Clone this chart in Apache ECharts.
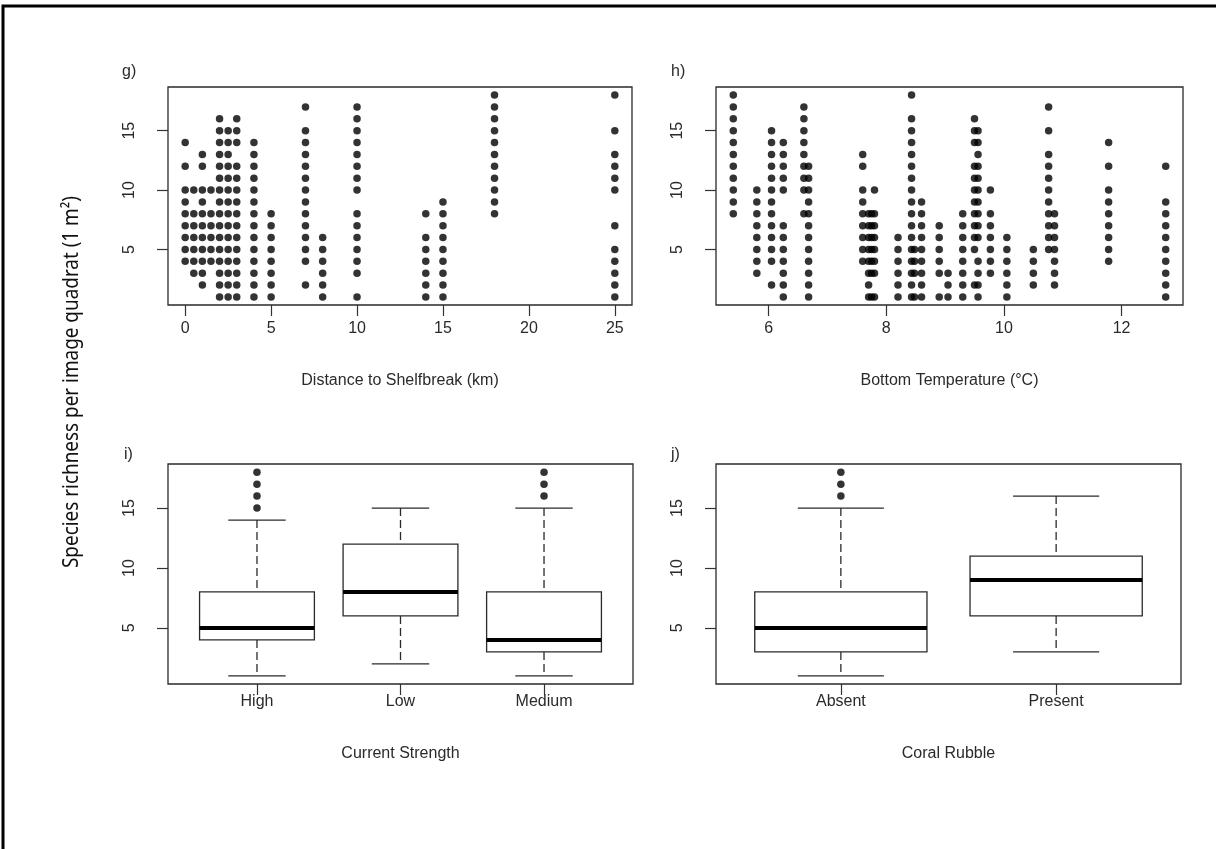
<!DOCTYPE html>
<html>
<head>
<meta charset="utf-8">
<script src="https://cdn.jsdelivr.net/npm/echarts@6/dist/echarts.min.js"></script>
<style>
html,body{margin:0;padding:0;background:#fff;}
#chart{width:1216px;height:849px;}
</style>
</head>
<body>
<div id="chart"></div>
<script>
// ---------- DATA ----------
// g) Distance to shelfbreak (km): [x, richness values]
const distCols = [
  [0,   [14,12,10,9,8,7,6,5,4]],
  [0.5, [10,8,7,6,5,4,3]],
  [1,   [13,12,10,9,8,7,6,5,4,3,2]],
  [1.5, [10,8,7,6,5,4]],
  [2,   [16,15,14,13,12,11,10,9,8,7,6,5,4,3,2,1]],
  [2.5, [15,14,13,12,11,10,9,8,7,6,5,4,3,2,1]],
  [3,   [16,15,14,12,11,10,9,8,7,6,5,4,3,2,1]],
  [4,   [14,13,12,11,10,9,8,7,6,5,4,3,2,1]],
  [5,   [8,7,6,5,4,3,2,1]],
  [7,   [17,15,14,13,12,11,10,9,8,7,6,5,4,2]],
  [8,   [6,5,4,3,2,1]],
  [10,  [17,16,15,14,13,12,11,10,8,7,6,5,4,3,1]],
  [14,  [8,6,5,4,3,2,1]],
  [15,  [9,8,7,6,5,4,3,2,1]],
  [18,  [18,17,16,15,14,13,12,11,10,9,8]],
  [25,  [18,15,13,12,11,10,7,5,4,3,2,1]]
];
// h) Bottom temperature (°C)
const tempCols = [
  [5.4,  [18,17,16,15,14,13,12,11,10,9,8]],
  [5.8,  [10,9,8,7,6,5,4,3]],
  [6.05, [15,14,13,12,11,10,9,8,7,6,5,4,2]],
  [6.25, [14,13,12,11,10,7,6,5,4,3,2,1]],
  [6.6,  [17,16,15,14,13,12,11,10,8]],
  [6.68, [12,11,10,9,8,7,6,5,4,3,2,1]],
  [7.6,  [13,12,10,9,8,7,6,5,4]],
  [7.7,  [8,7,6,5,4,3,2,1]],
  [7.75, [8,7,6,5,4,3,1]],
  [7.8,  [10,8,7,6,5,4,3,1]],
  [8.2,  [6,5,4,3,2,1]],
  [8.43, [18,16,15,14,13,12,11,10,9,8,7,6,5,4,3,2,1]],
  [8.48, [5,4,3,1]],
  [8.6,  [9,8,7,6,5,4,3,2,1]],
  [8.9,  [7,6,5,4,3,1]],
  [9.05, [3,2,1]],
  [9.3,  [8,7,6,5,4,3,2,1]],
  [9.5,  [16,15,14,12,11,10,9,8,7,6,5,2]],
  [9.56, [15,14,13,12,11,10,9,8,7,6,4,3,2,1]],
  [9.77, [10,8,7,6,5,4,3]],
  [10.05,[6,5,4,3,2,1]],
  [10.5, [5,4,3,2]],
  [10.76,[17,15,13,12,11,10,9,8,7,6,5]],
  [10.86,[8,7,6,5,4,3,2]],
  [11.78,[14,12,10,9,8,7,6,5,4]],
  [12.75,[12,9,8,7,6,5,4,3,2,1]]
];
// i) Current strength boxplots: [whiskerLow, Q1, median, Q3, whiskerHigh]
const currentCats = ['High','Low','Medium'];
const currentStats = [[1,4,5,8,14],[2,6,8,12,15],[1,3,4,8,15]];
const currentOutliers = [[1,15],[1,16],[1,17],[1,18],[3,16],[3,17],[3,18]];
// j) Coral rubble boxplots
const rubbleCats = ['Absent','Present'];
const rubbleStats = [[1,3,5,8,15],[3,6,9,11,16]];
const rubbleOutliers = [[1,16],[1,17],[1,18]];
// tick labels
const distTicks = [0,5,10,15,20,25];
const tempTicks = [6,8,10,12];
const yTicks = [5,10,15];

// ---------- CHART ----------
const FONT = 'Liberation Sans';
const TXT = '#2a2a2a';
const chart = echarts.init(document.getElementById('chart'), null, {renderer:'canvas'});

const flatten = cols => cols.flatMap(([x, ys]) => ys.map(y => [x, y]));

function yAxisCfg(gi){
  return {
    type:'value', gridIndex:gi, min:0.32, max:18.68,
    axisLine:{show:false, onZero:false}, splitLine:{show:false},
    axisTick:{show:true, length:11, customValues:yTicks, lineStyle:{color:'#333', width:1.2}},
    axisLabel:{customValues:yTicks, rotate:90, margin:30, fontSize:16, fontFamily:FONT, color:TXT}
  };
}
function xAxisCfg(gi, min, max, ticks, name, gap, margin, fmt){
  return {
    type:'value', gridIndex:gi, min:min, max:max,
    axisLine:{show:false, onZero:false}, splitLine:{show:false},
    axisTick:{show:true, length:11, customValues:ticks, lineStyle:{color:'#333', width:1.2}},
    axisLabel:{customValues:ticks, margin:margin, fontSize:16, fontFamily:FONT, color:TXT, formatter:fmt},
    name:name, nameLocation:'middle', nameGap:gap,
    nameTextStyle:{fontSize:16, fontFamily:FONT, color:TXT}
  };
}
const gridStyle = {show:true, borderColor:'#2a2a2a', borderWidth:1.3, backgroundColor:'transparent', containLabel:false};

function boxRender(params, api){
  const x = api.value(0);
  const lo = api.value(1), q1 = api.value(2), md = api.value(3), q3 = api.value(4), hi = api.value(5);
  const unit = api.size([1,0])[0];
  const hw = unit*0.4, cw = unit*0.2;
  const c = v => api.coord([x, v]);
  const pLo = c(lo), pQ1 = c(q1), pMd = c(md), pQ3 = c(q3), pHi = c(hi);
  const cx = pMd[0];
  const thin = {stroke:'#2a2a2a', lineWidth:1.3};
  const dash = {stroke:'#2a2a2a', lineWidth:1.3, lineDash:[8,4]};
  return {type:'group', children:[
    {type:'line', shape:{x1:cx,y1:pHi[1],x2:cx,y2:pQ3[1]}, style:dash},
    {type:'line', shape:{x1:cx,y1:pQ1[1],x2:cx,y2:pLo[1]}, style:dash},
    {type:'line', shape:{x1:cx-cw,y1:pHi[1],x2:cx+cw,y2:pHi[1]}, style:thin},
    {type:'line', shape:{x1:cx-cw,y1:pLo[1],x2:cx+cw,y2:pLo[1]}, style:thin},
    {type:'rect', shape:{x:cx-hw, y:pQ3[1], width:2*hw, height:pQ1[1]-pQ3[1]}, style:{fill:'#fff', stroke:'#2a2a2a', lineWidth:1.3}},
    {type:'line', shape:{x1:cx-hw,y1:pMd[1],x2:cx+hw,y2:pMd[1]}, style:{stroke:'#000', lineWidth:4}}
  ]};
}

const option = {
  animation:false,
  backgroundColor:'#fff',
  grid:[
    Object.assign({left:168, top:87, width:464, height:218}, gridStyle),
    Object.assign({left:716, top:87, width:467, height:218}, gridStyle),
    Object.assign({left:168, top:464, width:465, height:220}, gridStyle),
    Object.assign({left:716, top:464, width:465, height:220}, gridStyle)
  ],
  xAxis:[
    xAxisCfg(0, -1, 26, distTicks, 'Distance to Shelfbreak (km)', 68, 16),
    xAxisCfg(1, 5.106, 13.044, tempTicks, 'Bottom Temperature (\u00B0C)', 68, 16),
    xAxisCfg(2, 0.38, 3.62, [1,2,3], 'Current Strength', 62, 10, v => currentCats[Math.round(v)-1]),
    xAxisCfg(3, 0.42, 2.58, [1,2], 'Coral Rubble', 62, 10, v => rubbleCats[Math.round(v)-1])
  ],
  yAxis:[yAxisCfg(0), yAxisCfg(1), yAxisCfg(2), yAxisCfg(3)],
  series:[
    {type:'scatter', xAxisIndex:0, yAxisIndex:0, data:flatten(distCols), symbolSize:7.5, itemStyle:{color:'#000'}, silent:true},
    {type:'scatter', xAxisIndex:1, yAxisIndex:1, data:flatten(tempCols), symbolSize:7.5, itemStyle:{color:'#000'}, silent:true},
    {type:'custom', xAxisIndex:2, yAxisIndex:2, renderItem:boxRender, encode:{x:0, y:[1,2,3,4,5]},
      data:currentStats.map((s,i)=>[i+1].concat(s)), silent:true},
    {type:'scatter', xAxisIndex:2, yAxisIndex:2, data:currentOutliers, symbolSize:7.5, itemStyle:{color:'#000'}, silent:true},
    {type:'custom', xAxisIndex:3, yAxisIndex:3, renderItem:boxRender, encode:{x:0, y:[1,2,3,4,5]},
      data:rubbleStats.map((s,i)=>[i+1].concat(s)), silent:true},
    {type:'scatter', xAxisIndex:3, yAxisIndex:3, data:rubbleOutliers, symbolSize:7.5, itemStyle:{color:'#000'}, silent:true}
  ],
  graphic:[
    {type:'rect', shape:{x:3, y:6, width:1400, height:1000}, style:{fill:'none', stroke:'#000', lineWidth:3}, silent:true},
    {type:'text', x:122, y:64, style:{text:'g)', font:'16px "Liberation Sans"', fill:TXT}},
    {type:'text', x:671, y:64, style:{text:'h)', font:'16px "Liberation Sans"', fill:TXT}},
    {type:'text', x:124, y:447, style:{text:'i)', font:'16px "Liberation Sans"', fill:TXT}},
    {type:'text', x:671, y:447, style:{text:'j)', font:'16px "Liberation Sans"', fill:TXT}},
    {type:'text', x:72, y:382, rotation:Math.PI/2, scaleX:0.9,
      style:{text:'Species richness per image quadrat (1 m\u00B2)', font:'21px "Noto Sans"', fill:'#111', align:'center', verticalAlign:'middle'}}
  ]
};
chart.setOption(option);
</script>
</body>
</html>
